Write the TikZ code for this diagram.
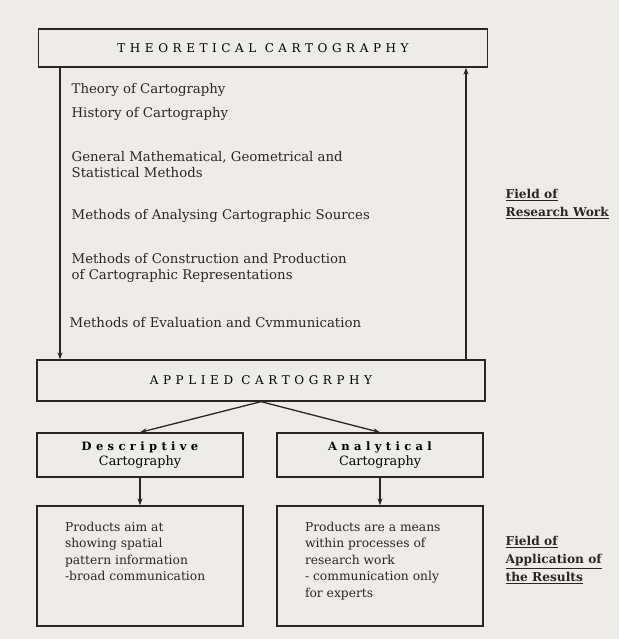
\documentclass[tikz,border=0pt]{standalone}
\usepackage{fontspec}
\setmainfont{DejaVu Serif}
\usetikzlibrary{arrows.meta}
\definecolor{paper}{HTML}{EEECE9}
\definecolor{ink}{HTML}{2A2624}
\newcommand{\spaced}[1]{{\addfontfeature{LetterSpace=38}#1}}
\begin{document}
\begin{tikzpicture}[x=1pt, y=-1pt, >={Stealth[length=7pt,width=5pt]}, line width=1.3pt,
  box/.style={draw=ink, inner sep=0pt},
  item/.style={anchor=west, inner sep=0pt, text=ink, font=\fontsize{13.3}{16}\selectfont, align=left},
  prodtext/.style={anchor=north west, inner sep=0pt, text=ink, font=\fontsize{12.3}{16.5}\selectfont, align=left},
  fieldlabel/.style={anchor=north west, inner sep=0pt, text=ink, font=\bfseries\fontsize{12.2}{18}\selectfont, align=left}]
\fill[paper] (0,0) rectangle (619,639);
\node[box, minimum width=449, minimum height=38, font=\fontsize{12}{12}\selectfont] (theo) at (263,48) {\spaced{THEORETICAL CARTOGRAPHY}};
\node[box, minimum width=448, minimum height=41, font=\fontsize{12}{12}\selectfont] (applied) at (261,380.5) {\spaced{APPLIED CARTOGRPHY}};
\node[box, minimum width=206, minimum height=44, align=center] (desc) at (140,455) {{\bfseries\fontsize{11.5}{13}\selectfont\spaced{Descriptive}}\\[1.5pt]{\fontsize{12.8}{13}\selectfont Cartography}};
\node[box, minimum width=206, minimum height=44, align=center] (anal) at (380,455) {{\bfseries\fontsize{11.5}{13}\selectfont\spaced{Analytical}}\\[1.5pt]{\fontsize{12.8}{13}\selectfont Cartography}};
\node[box, minimum width=206, minimum height=120] (prod1) at (140,566) {};
\node[box, minimum width=206, minimum height=120] (prod2) at (380,566) {};
% research fields
\node[item] (t1) at (71,90) {Theory of Cartography};
\node[item] (t2) at (71,114) {History of Cartography};
\node[item] (t3) at (71,165) {General Mathematical, Geometrical and\\Statistical Methods};
\node[item] (t4) at (71,216) {Methods of Analysing Cartographic Sources};
\node[item] (t5) at (71,268) {Methods of Construction and Production\\of Cartographic Representations};
\node[item] (t6) at (69,323) {Methods of Evaluation and Cvmmunication};
% products
\node[prodtext] (p1) at ([shift={(28,16)}]prod1.north west) {Products aim at\\showing spatial\\pattern information\\-broad communication};
\node[prodtext] (p2) at ([shift={(28,16)}]prod2.north west) {Products are a means\\within processes of\\research work\\- communication only\\for experts};
% side labels
\node[fieldlabel] (f1) at (505,189) {\underline{Field of}\\\underline{Research Work}};
\node[fieldlabel] (f2) at (505,536) {\underline{Field of}\\\underline{Application of}\\\underline{the Results}};
% connectors
\coordinate (down) at (60,0);
\coordinate (up) at (466,0);
\draw[->, ink] (theo.south -| down) -- (applied.north -| down);
\draw[->, ink] (applied.north -| up) -- (theo.south -| up);
\draw[->, ink] (applied.south) -- (desc.north);
\draw[->, ink] (applied.south) -- (anal.north);
\draw[->, ink] (desc) -- (prod1);
\draw[->, ink] (anal) -- (prod2);
\end{tikzpicture}
\end{document}
